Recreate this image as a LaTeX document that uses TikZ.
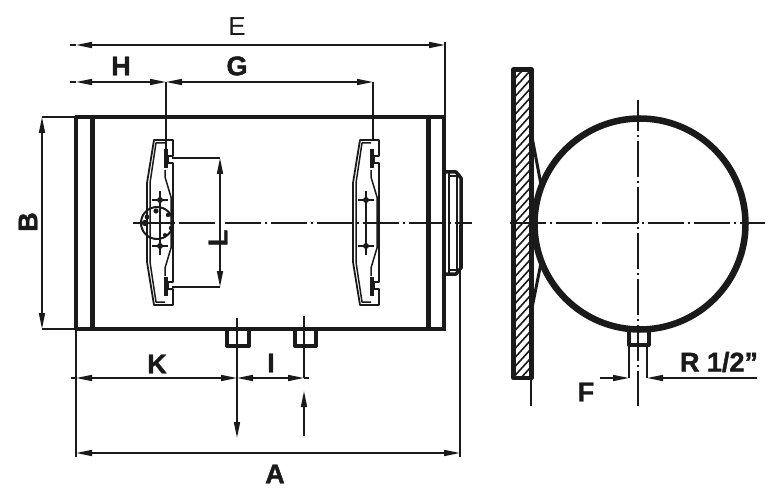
\documentclass[tikz,border=0pt]{standalone}
\usepackage{fontspec}
\setmainfont{Liberation Sans}[BoldFeatures={FakeBold=1.5}]
\usetikzlibrary{arrows.meta}
\definecolor{inkc}{HTML}{1A1A1A}
\tikzset{
  dimtip/.tip={Triangle[length=16pt,width=6pt]},
  dimline/.style={line width=1.5pt,color=inkc},
  dimarrow/.style={dimline,{dimtip}-{dimtip}},
  oneend/.style={dimline,-{dimtip}},
  thick body/.style={line width=4pt,color=inkc},
  heavy/.style={line width=5pt,color=inkc},
  thin part/.style={line width=1.5pt,color=inkc,line join=round},
  center line/.style={line width=1.2pt,color=inkc,dash pattern=on 36pt off 4pt on 2pt off 4pt},
  letter/.style={font=\bfseries\fontsize{27}{27}\selectfont,text=inkc,inner sep=0pt},
  plainletter/.style={font=\fontsize{26}{26}\selectfont,text=inkc,inner sep=0pt}
}
\newcommand{\bracketpart}[1]{%
\begin{scope}[shift={(#1,0)}]
  \draw[thin part,line width=1.8pt] (21,156) -- (26,156) -- (26,140) -- (7,140) -- (0,183) -- (0,262) -- (7,305) -- (26,305) -- (26,289) -- (21,289);
  \draw[thin part] (18,143) -- (9,143) -- (3,183) -- (3,262) -- (9,302) -- (18,302);
  \draw[thin part] (18,170) -- (18,177) -- (24,197) -- (24,248) -- (18,268) -- (18,276);
  \draw[thin part] (21,156) -- (21,163) -- (26,163) -- (26,282) -- (21,282) -- (21,289);
  \draw[line width=3.5pt,color=inkc] (19,149) -- (19,168) (19,277) -- (19,296);
  \draw[thin part] (13,191) -- (13,255);
  \draw[thin part] (5,200) -- (21,200) (5,246) -- (21,246);
  \fill[inkc] (13,200) circle (3) (13,246) circle (3);
\end{scope}}
\begin{document}
\begin{tikzpicture}[x=1pt,y=-1pt]
\useasboundingbox (0,0) rectangle (778,494);
% named coordinates
\coordinate (Et) at (76,45); \coordinate (Eb) at (445,45);
\coordinate (Ht) at (76,82); \coordinate (Hm) at (166,82); \coordinate (Gr) at (373,82);
\coordinate (At) at (76,453); \coordinate (Ae) at (460,453);
\coordinate (Ba) at (42,117); \coordinate (Bb) at (42,329);
\coordinate (La) at (220,158); \coordinate (Lb) at (220,287);
\coordinate (Ka) at (76,378); \coordinate (Kb) at (237,378); \coordinate (Ic) at (304,378);
\coordinate (Fa) at (629,378); \coordinate (Fs) at (600,378);
\coordinate (Ra) at (647,378); \coordinate (Rs) at (757,378);
\coordinate (Ds) at (237,378); \coordinate (De) at (237,438);
\coordinate (Us) at (304,436); \coordinate (Ue) at (304,391);
% body
\draw[thick body] (75,117) -- (446,117) (75,329) -- (446,329);
\draw[thick body] (76,117) -- (76,329);
\draw[heavy] (92,117) -- (92,329) (428,117) -- (428,329);
\draw[thick body] (444,117) -- (444,329);
% flange
\draw[line width=3.5pt,color=inkc,line join=round] (444,172) -- (456,172) -- (461,178) -- (461,268) -- (456,274) -- (444,274);
\draw[line width=2pt,color=inkc] (449,172) -- (449,274);
\draw[line width=2pt,color=inkc] (457,176) -- (457,270);
\draw[line width=2pt,color=inkc] (449,176) -- (457,176) (449,270) -- (457,270);
% nozzles
\draw[thick body,line join=round] (227,330) -- (227,346) -- (249,346) -- (249,330);
\draw[thick body,line join=round] (295,330) -- (295,346) -- (316,346) -- (316,330);
% brackets
\bracketpart{147}
\bracketpart{353}
% centre lines
\draw[center line] (133,223) -- (472,223);
% fixing circle
\draw[line width=2pt,color=inkc] (157,223) circle (16);
\fill[inkc] (147,217) circle (2.4) (145,223) circle (3.2) (156,211) circle (2.6)
  (168,215) circle (2.2) (171,228) circle (2.2) (165,235) circle (2);
\draw[thin part] (145,223) -- (172,223);
% dimensions, left view
\draw[dimline] (76,117) -- (76,457);
\draw[dimline] (445,117) -- (445,42);
\draw[dimline] (460,225) -- (460,457);
\draw[dimline] (70,82) -- (76,82) (70,45) -- (76,45);
\draw[dimline] (166,82) -- (166,155) (373,82) -- (373,140);
\draw[dimline] (42,117) -- (76,117) (42,329) -- (76,329);
\draw[dimline] (172,158) -- (220,158) (172,287) -- (220,287);
\draw[dimarrow] (Et) -- (Eb);
\draw[dimarrow] (Ht) -- (Hm);
\draw[dimarrow] (Hm) -- (Gr);
\draw[dimarrow] (At) -- (Ae);
\draw[dimarrow] (Ba) -- (Bb);
\draw[dimarrow] (La) -- (Lb);
\draw[dimarrow] (Ka) -- (Kb);
\draw[dimarrow] (Kb) -- (Ic);
\draw[dimline] (71,378) -- (76,378) (304,378) -- (309,378);
\draw[dimline] (237,318) -- (237,378) (304,316) -- (304,378);
\draw[oneend] (Ds) -- (De);
\draw[oneend] (Us) -- (Ue);
% wall
\begin{scope}
  \clip (512,68) rectangle (532,378);
  \foreach \k in {0,9,...,360}
    \draw[line width=1.6pt,color=inkc] (500,68+\k) -- (540,24+\k);
\end{scope}
\draw[line width=4.5pt,color=inkc,line join=round] (513.5,69.5) rectangle (531.5,378);
\draw[line width=3pt,color=inkc,line join=round] (532,137) -- (542,190);
\draw[line width=3pt,color=inkc,line join=round] (532,308) -- (542,258);
\draw[dimline] (531,378) -- (531,406);
% round tank
\fill[white] (640,224) circle (105);
\draw[line width=6.5pt,color=inkc] (640,224) circle (105.5);
\draw[center line] (510,223) -- (765,223);
\draw[center line,dash phase=5pt] (638,100) -- (638,406);
% right nozzle
\draw[thick body,line join=round] (629,331) -- (629,345) -- (648.5,345) -- (648.5,331);
\draw[dimline] (629,346) -- (629,378) (647,346) -- (647,378);
\draw[oneend] (Fs) -- (Fa);
\draw[oneend] (Rs) -- (Ra);
% labels
\node[plainletter] (tE) at (237,27) {E};
\node[letter] (tH) at (121,66) {H};
\node[letter] (tG) at (237,66) {G};
\node[letter,rotate=90] (tB) at (28,222) {B};
\node[letter,rotate=90] (tL) at (218,238) {L};
\node[letter] (tK) at (157,364) {K};
\node[letter] (tI) at (271,363) {I};
\node[letter] (tA) at (275,474) {A};
\node[letter] (tF) at (586,392) {F};
\node[letter] (tR) at (719,362) {R 1/2"};
\end{tikzpicture}
\end{document}
